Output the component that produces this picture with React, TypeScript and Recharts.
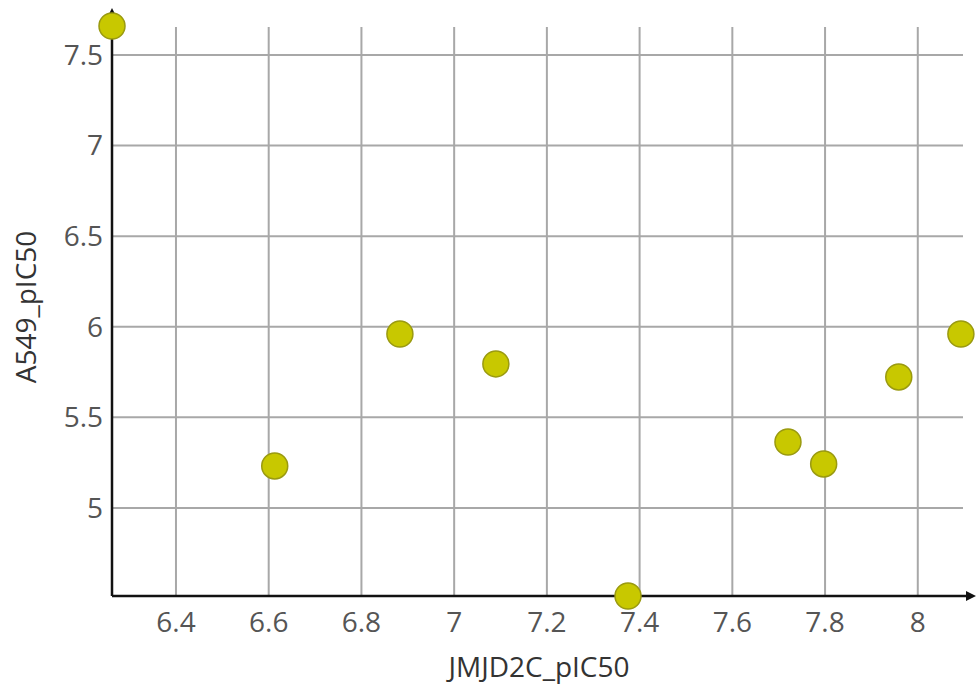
import React from 'react';
import { ScatterChart, Scatter, XAxis, YAxis, CartesianGrid } from 'recharts';

// JMJD2C vs A549 pIC50 values
const jmjd2c = [6.262, 6.613, 6.883, 7.09, 7.375, 7.72, 7.797, 7.959, 8.093];
const a549 = [7.66, 5.232, 5.96, 5.795, 4.514, 5.364, 5.243, 5.723, 5.96];

const xTicks = [6.4, 6.6, 6.8, 7, 7.2, 7.4, 7.6, 7.8, 8];
const yTicks = [5, 5.5, 6, 6.5, 7, 7.5];

const points = jmjd2c.map((x, i) => ({ x, y: a549[i] }));

const font = '"Open Sans", "Noto Sans", sans-serif';

const Dot = (props: any) => {
  const { cx, cy } = props;
  return <circle cx={cx} cy={cy} r={13} fill="#c8c800" stroke="#9a9a10" strokeWidth={1.5} />;
};

const App = () => {
  return (
    <div style={{ position: 'absolute', left: 0, top: 0, width: 976, height: 696, background: '#fff' }}>
      <svg width={0} height={0} style={{ position: 'absolute' }}>
        <defs>
          <marker
            id="axisArrow"
            viewBox="0 0 10 10"
            refX="0"
            refY="5"
            markerWidth="10"
            markerHeight="10"
            markerUnits="userSpaceOnUse"
            orient="auto-start-reverse"
          >
            <path d="M0,0 L10,5 L0,10 z" fill="#111" />
          </marker>
        </defs>
      </svg>
      <ScatterChart width={976} height={696} margin={{ top: 18, right: 10, bottom: 0, left: 0 }}>
        {/* syncWithTicks keeps the grid off the domain edges */}
        <CartesianGrid
          x={112}
          y={27}
          width={851}
          height={569}
          stroke="#a8a8a8"
          strokeWidth={2}
          syncWithTicks
        />
        <XAxis
          type="number"
          dataKey="x"
          domain={[6.262, 8.104]}
          ticks={xTicks}
          height={100}
          tickSize={0}
          tickMargin={16}
          axisLine={{ stroke: '#111', strokeWidth: 2.5, markerEnd: 'url(#axisArrow)' }}
          tick={{ fill: '#555', fontSize: 28, fontFamily: font }}
          label={{
            value: 'JMJD2C_pIC50',
            position: 'insideBottom',
            offset: 19,
            fill: '#333',
            fontSize: 28,
            fontFamily: font,
          }}
        />
        <YAxis
          type="number"
          dataKey="y"
          domain={[4.514, 7.704]}
          ticks={yTicks}
          width={112}
          tickSize={0}
          tickMargin={9}
          axisLine={{ stroke: '#111', strokeWidth: 2.5, markerStart: 'url(#axisArrow)' }}
          tick={{ fill: '#555', fontSize: 28, fontFamily: font }}
          label={{
            value: 'A549_pIC50',
            angle: -90,
            position: 'insideLeft',
            offset: 26,
            fill: '#333',
            fontSize: 28,
            fontFamily: font,
            style: { textAnchor: 'middle' },
          }}
        />
        <Scatter data={points} shape={Dot} isAnimationActive={false} />
      </ScatterChart>
    </div>
  );
};

export default App;
